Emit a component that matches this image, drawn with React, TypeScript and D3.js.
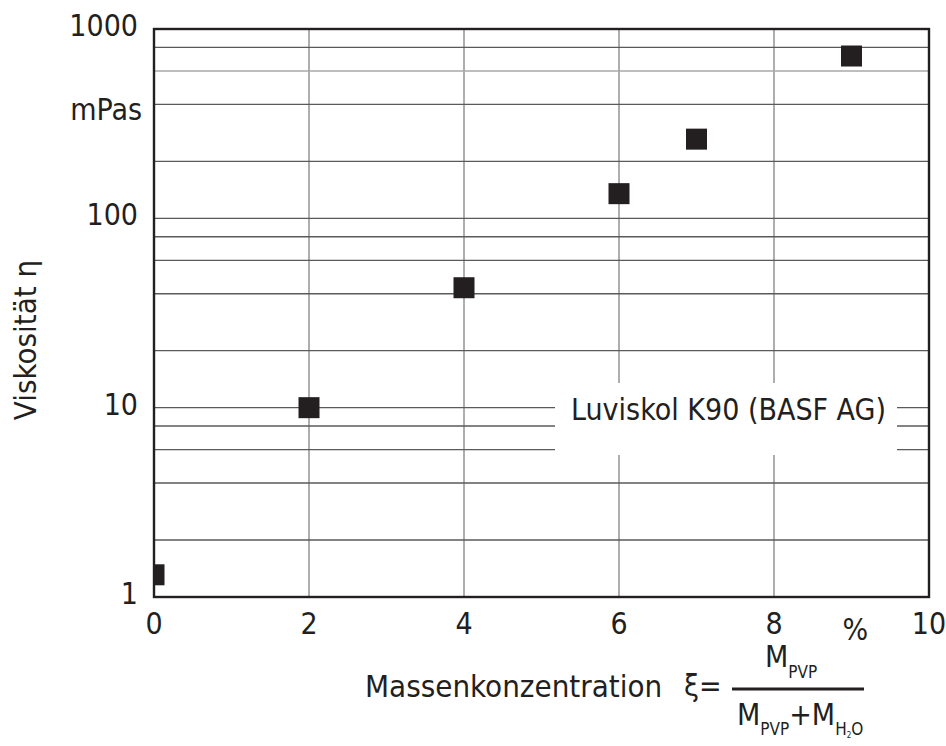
import React from 'react'
import * as d3 from 'd3'

// Massenkonzentration (%) and Viskosität (mPas), Luviskol K90
const concentration = [0, 2, 4, 6, 7, 9]
const viscosity = [1.31, 10, 43, 135, 262, 720]

const xTicks = [0, 2, 4, 6, 8, 10]
const yTicks = [1, 10, 100, 1000]
const yGrid = [1, 2, 4, 6, 8, 10, 20, 40, 60, 80, 100, 200, 400, 600, 800, 1000]
const yLightGrid = [600]

const FONT = "'DejaVu Sans Condensed', 'DejaVu Sans', sans-serif"
const INK = '#231f20'

export default function App() {
  const W = 946
  const H = 746
  const L = 154, R = 929, T = 29, B = 597

  const x = d3.scaleLinear().domain([0, 10]).range([L, R])
  const y = d3.scaleLog().domain([1, 1000]).range([B, T])

  const points = concentration.map((c, i) => ({ c, v: viscosity[i] }))
  const sq = 21

  // label box for the series name
  const box = { x0: 555, x1: 897, y0: 383, y1: 455 }

  return (
    <svg
      width={W}
      height={H}
      style={{ position: 'absolute', left: 0, top: 0, background: '#fff' }}
      fontFamily={FONT}
    >
      <defs>
        <clipPath id="plot">
          <rect x={L} y={T} width={R - L} height={B - T} />
        </clipPath>
      </defs>

      {/* vertical grid */}
      {xTicks.map(t => (
        <line key={'vx' + t} x1={x(t)} x2={x(t)} y1={T} y2={B} stroke="#9a9a9a" strokeWidth={1.6} />
      ))}
      {/* horizontal grid */}
      {yGrid.map(t => (
        <line
          key={'hy' + t}
          x1={L} x2={R} y1={y(t)} y2={y(t)}
          stroke={yLightGrid.includes(t) ? '#a8a8a8' : '#5a5a5a'}
          strokeWidth={1.4}
        />
      ))}

      {/* white box behind series label */}
      <rect x={box.x0} y={box.y0} width={box.x1 - box.x0} height={box.y1 - box.y0} fill="#fff" />
      <text x={box.x0 + 16} y={box.y0 + 37} fontSize={30} fill={INK}>Luviskol K90 (BASF AG)</text>

      {/* data squares */}
      <g clipPath="url(#plot)">
        {points.map(p => (
          <rect
            key={p.c}
            x={x(p.c) - sq / 2}
            y={y(p.v) - sq / 2}
            width={sq}
            height={sq}
            fill={INK}
          />
        ))}
      </g>

      {/* frame */}
      <rect x={L} y={T} width={R - L} height={B - T} fill="none" stroke={INK} strokeWidth={2.4} />

      {/* y tick labels */}
      {yTicks.map(t => (
        <text key={'yl' + t} x={L - 16} y={y(t) + 7} textAnchor="end" fontSize={30} fill={INK}>
          {t}
        </text>
      ))}
      <text x={L - 12} y={y(400) + 16} textAnchor="end" fontSize={30} fill={INK}>mPas</text>

      {/* x tick labels */}
      {xTicks.map(t => (
        <text key={'xl' + t} x={x(t)} y={B + 37} textAnchor="middle" fontSize={30} fill={INK}>
          {t}
        </text>
      ))}
      <text x={x(9.05)} y={B + 43} textAnchor="middle" fontSize={30} fill={INK}>%</text>

      {/* y axis title */}
      <text transform={`translate(36,${(T + B) / 2 + 27}) rotate(-90)`} textAnchor="middle" fontSize={31} fill={INK}>
        Viskosität η
      </text>

      {/* x axis title with formula */}
      <text x={365} y={697} fontSize={31} fill={INK}>Massenkonzentration</text>
      <text x={684} y={696} fontSize={30} fill={INK}>ξ=</text>
      <text x={765} y={667} fontSize={30} fill={INK}>
        M<tspan dy={11} fontSize={17}>PVP</tspan>
      </text>
      <line x1={732} x2={864} y1={689} y2={689} stroke={INK} strokeWidth={3} />
      <text x={737} y={725} fontSize={30} fill={INK}>
        M<tspan dy={10} fontSize={17}>PVP</tspan>
        <tspan dy={-10} fontSize={30}>+M</tspan>
        <tspan dy={10} fontSize={17}>H</tspan>
        <tspan dy={3} fontSize={8}>2</tspan>
        <tspan dy={-3} fontSize={17}>O</tspan>
      </text>
    </svg>
  )
}
